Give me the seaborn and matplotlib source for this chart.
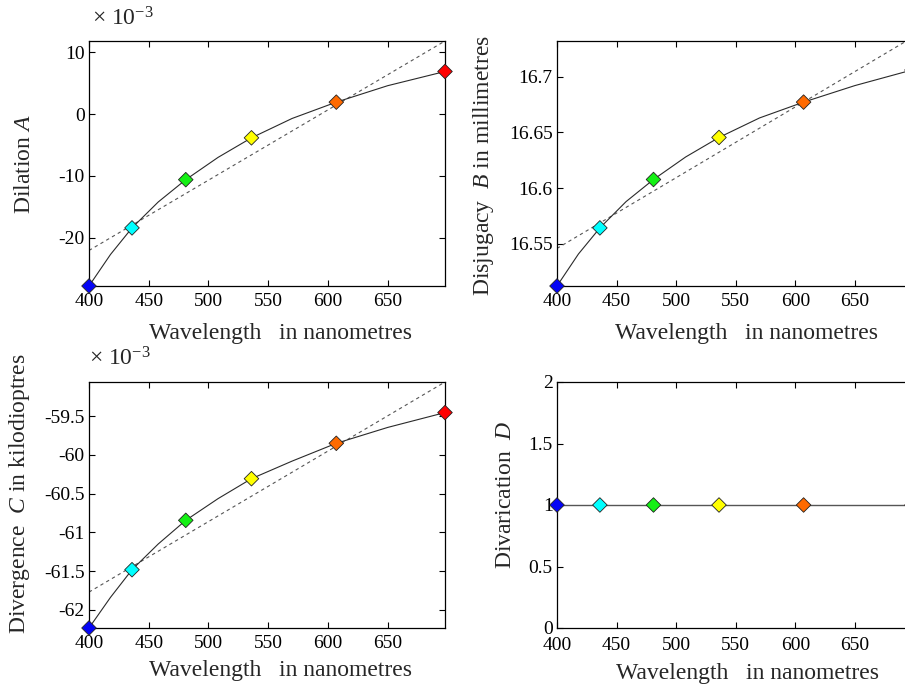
import matplotlib
matplotlib.use("Agg")
import matplotlib.pyplot as plt
from matplotlib.ticker import FuncFormatter, MultipleLocator
import pandas as pd
import seaborn as sns

# Sample wavelengths (nm) with their spectral marker colours
wavelengths = [400, 436, 481, 536, 607, 698]
marker_colors = ["#0505f5", "#00ffff", "#14f014", "#ffff00", "#ff6a00", "#ff0000"]

# Wavelength grid on which the smooth curves are sampled
curve_wl = [400, 418, 436, 458, 481, 508, 536, 570, 607, 650, 698]

# Dilation A (x 10^-3)
dilation_A = [-27.8, -18.4, -10.6, -3.83, 1.94, 6.9]
dilation_A_curve = [-27.8, -22.7, -18.4, -14.2, -10.6, -7.0, -3.83, -0.7, 1.94, 4.6, 6.9]
dilation_A_fit = [-22.05, 11.83]

# Disjugacy B (mm)
disjugacy_B = [16.5123, 16.5644, 16.6078, 16.6455, 16.6772, 16.706]
disjugacy_B_curve = [16.5123, 16.541, 16.5644, 16.588, 16.6078, 16.628, 16.6455,
                     16.663, 16.6772, 16.692, 16.706]
disjugacy_B_fit = [16.546, 16.735]

# Divergence C (x 10^-3 kilodioptres)
divergence_C = [-62.236, -61.483, -60.845, -60.307, -59.85, -59.453]
divergence_C_curve = [-62.236, -61.84, -61.483, -61.15, -60.845, -60.565, -60.307,
                      -60.08, -59.85, -59.645, -59.453]
divergence_C_fit = [-61.772, -59.058]

# Divarication D
divarication_D = [1, 1, 1, 1, 1, 1]
divarication_D_curve = [1, 1]

fit_wl = [400, 698]

sns.set_style("ticks")
plt.rcParams["font.family"] = ["Liberation Serif", "DejaVu Serif"]
plt.rcParams["mathtext.fontset"] = "custom"
plt.rcParams["mathtext.rm"] = "Liberation Serif"
plt.rcParams["mathtext.it"] = "Liberation Serif:italic"
plt.rcParams["axes.unicode_minus"] = False

W, H = 905, 687
fig = plt.figure(figsize=(W / 100, H / 100), dpi=100)
fig.patch.set_facecolor("white")


def px_axes(left, top, right, bottom):
    return fig.add_axes([left / W, 1 - bottom / H, (right - left) / W, (bottom - top) / H])


ax_A = px_axes(89, 41, 445, 286)
ax_B = px_axes(557, 41, 912, 286)
ax_C = px_axes(89, 382, 445, 628)
ax_D = px_axes(557, 382, 912, 628)

panels = [
    (ax_A, dilation_A, dilation_A_curve, dilation_A_fit, (-27.8, 11.83), 10,
     "Dilation $A$", (-0.18, 0.498), (0.537, -0.192), 5),
    (ax_B, disjugacy_B, disjugacy_B_curve, disjugacy_B_fit, (16.5123, 16.732), 0.05,
     "Disjugacy  $B$ in millimetres", (-0.208, 0.49), (0.535, -0.192), 5),
    (ax_C, divergence_C, divergence_C_curve, divergence_C_fit, (-62.236, -59.058), 0.5,
     "Divergence  $C$ in kilodioptres", (-0.194, 0.545), (0.537, -0.171), 5),
    (ax_D, divarication_D, None, None, (0, 2), 0.5,
     "Divarication  $D$", (-0.146, 0.543), (0.538, -0.183), 6.5),
]

for ax, pts, curve, fit, ylim, ystep, ylabel, ylab_pos, xlab_pos, xpad in panels:
    if fit is not None:
        sns.lineplot(x=fit_wl, y=fit, ax=ax, color="#555555", lw=0.8,
                     linestyle=(0, (3, 3)))
    if curve is not None:
        sns.lineplot(x=curve_wl, y=curve, ax=ax, color="#2a2a2a", lw=0.8)
    else:
        sns.lineplot(x=fit_wl, y=divarication_D_curve, ax=ax, color="#555555", lw=1.0)
    df = pd.DataFrame({"wl": wavelengths, "v": pts, "c": marker_colors})
    sns.scatterplot(data=df, x="wl", y="v", hue="c",
                    palette=dict(zip(marker_colors, marker_colors)),
                    marker="D", s=55, edgecolor="#222222", linewidth=0.6,
                    legend=False, ax=ax, clip_on=False, zorder=5)
    ax.set_xlim(400, 698)
    ax.set_ylim(*ylim)
    ax.xaxis.set_major_locator(MultipleLocator(50))
    ax.yaxis.set_major_locator(MultipleLocator(ystep))
    ax.yaxis.set_major_formatter(FuncFormatter(lambda v, p: f"{round(v, 4):g}"))
    ax.tick_params(direction="in", length=4, width=0.8, top=True, right=True,
                   labelsize=14, colors="black")
    ax.tick_params(axis="x", pad=xpad)
    ax.tick_params(axis="y", pad=3)
    for sp in ax.spines.values():
        sp.set_linewidth(0.9)
        sp.set_color("black")
    xl = ax.set_xlabel("Wavelength   in nanometres", fontsize=17)
    ax.xaxis.set_label_coords(*xlab_pos)
    xl.set_verticalalignment("center")
    yl = ax.set_ylabel(ylabel, fontsize=17)
    ax.yaxis.set_label_coords(*ylab_pos)
    yl.set_verticalalignment("center")

fig.text(92 / W, 1 - 19 / H, r"$\times\ 10^{-3}$", fontsize=17, ha="left", va="center")
fig.text(89 / W, 1 - 359 / H, r"$\times\ 10^{-3}$", fontsize=17, ha="left", va="center")

fig.savefig("out.png", dpi=100, facecolor="white")
